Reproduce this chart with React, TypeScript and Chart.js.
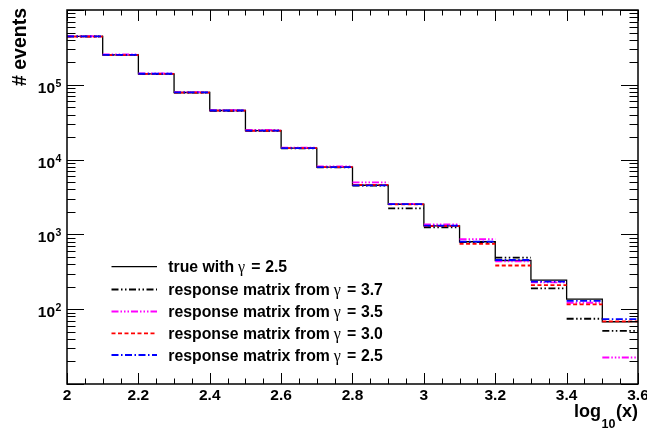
import React, { useEffect, useRef } from "react";
import { Chart, registerables } from "chart.js";

Chart.register(...registerables);

// ---- data ----
const binEdges = [2.0, 2.1, 2.2, 2.3, 2.4, 2.5, 2.6, 2.7, 2.8, 2.9, 3.0, 3.1, 3.2, 3.3, 3.4, 3.5, 3.6];
const trueCounts = [443000, 252000, 140000, 78900, 45300, 24400, 14200, 7910, 4540, 2530, 1300, 798, 448, 245, 136, 68];
const gamma37 = [442000, 251000, 139000, 78500, 45000, 24300, 14100, 7850, 4480, 2230, 1245, 790, 488, 190, 74.5, 51.4];
const gamma35 = [446000, 255000, 142000, 80000, 46000, 24900, 14500, 8100, 4950, 2560, 1360, 861, 437, 229, 122, 22.6];
const gamma30 = [441000, 250000, 140000, 78800, 45200, 24300, 14200, 7950, 4600, 2520, 1290, 748, 384, 210, 116, 68.6];
const gamma25 = [443000, 252000, 140500, 79000, 45300, 24400, 14200, 7920, 4520, 2540, 1310, 800, 455, 233, 129, 73.8];

const xTickValues = [2, 2.2, 2.4, 2.6, 2.8, 3, 3.2, 3.4, 3.6];
const xTickLabels = ["2", "2.2", "2.4", "2.6", "2.8", "3", "3.2", "3.4", "3.6"];
const yDecadeValues = [100, 1000, 10000, 100000];
const yDecadeExponents = ["2", "3", "4", "5"];
const legendPrefixes = ["true with", "response matrix from", "response matrix from", "response matrix from", "response matrix from"];
const legendValues = ["2.5", "3.7", "3.5", "3.0", "2.5"];

const Y_MIN = 10;
const Y_MAX = 1e6;

const BOLD = "'Liberation Sans', Arial, Helvetica, sans-serif";

const styles = [
  { color: "#000000", dash: [] as number[], width: 1.3 },
  { color: "#000000", dash: [7, 2.5, 1.5, 2.5, 1.5, 2.5], width: 1.8 },
  { color: "#ff00ff", dash: [7, 2, 1.5, 2, 1.5, 2, 1.5, 2], width: 1.8 },
  { color: "#ff0000", dash: [4, 2.5], width: 1.8 },
  { color: "#0000ff", dash: [7, 2.5, 1.5, 2.5], width: 1.8 },
];

function stepData(vals: number[]) {
  const pts = vals.map((v, i) => ({ x: binEdges[i], y: v }));
  pts.push({ x: binEdges[vals.length], y: vals[vals.length - 1] });
  return pts;
}

function segData(vals: number[]) {
  const pts: { x: number; y: number | null }[] = [];
  vals.forEach((v, i) => {
    pts.push({ x: binEdges[i], y: v });
    pts.push({ x: binEdges[i + 1], y: v });
    pts.push({ x: binEdges[i + 1], y: null });
  });
  return pts;
}

const rootPlugin = {
  id: "rootFrame",
  afterDatasetsDraw(chart: any) {
    const ctx: CanvasRenderingContext2D = chart.ctx;
    const xs = chart.scales.x;
    const ys = chart.scales.y;
    const { left, right, top, bottom } = chart.chartArea;
    ctx.save();
    ctx.strokeStyle = "#000";
    ctx.fillStyle = "#000";

    // frame
    ctx.lineWidth = 1.5;
    ctx.setLineDash([]);
    ctx.strokeRect(left, top, right - left, bottom - top);

    // x ticks (minor every 0.05, major at labelled values)
    ctx.lineWidth = 1;
    for (let k = 0; k <= 32; k++) {
      const v = 2 + k * 0.05;
      const px = Math.round(xs.getPixelForValue(v)) + 0.5;
      const major = k % 4 === 0;
      const len = major ? 11 : 5.5;
      ctx.beginPath();
      ctx.moveTo(px, bottom);
      ctx.lineTo(px, bottom - len);
      ctx.moveTo(px, top);
      ctx.lineTo(px, top + len);
      ctx.stroke();
    }

    // y ticks
    for (let d = 10; d < Y_MAX * 10; d *= 10) {
      for (let m = 1; m <= 9; m++) {
        const v = m * d;
        if (v < Y_MIN || v > Y_MAX) continue;
        const py = Math.round(ys.getPixelForValue(v)) + 0.5;
        const len = m === 1 ? 17 : 8.5;
        ctx.beginPath();
        ctx.moveTo(left, py);
        ctx.lineTo(left + len, py);
        ctx.moveTo(right, py);
        ctx.lineTo(right - len, py);
        ctx.stroke();
      }
    }

    // x labels
    ctx.font = `bold 15.5px ${BOLD}`;
    ctx.textAlign = "center";
    ctx.textBaseline = "alphabetic";
    xTickValues.forEach((v, i) => {
      ctx.fillText(xTickLabels[i], xs.getPixelForValue(v), bottom + 16);
    });

    // y labels
    yDecadeValues.forEach((v, i) => {
      const py = ys.getPixelForValue(v);
      ctx.font = `bold 15.5px ${BOLD}`;
      ctx.textAlign = "right";
      ctx.fillText("10", 55, py + 8);
      ctx.font = `bold 10.5px ${BOLD}`;
      ctx.textAlign = "left";
      ctx.fillText(yDecadeExponents[i], 55.5, py + 2);
    });

    // y title
    ctx.save();
    ctx.translate(26, 8);
    ctx.rotate(-Math.PI / 2);
    ctx.font = `bold 19.5px ${BOLD}`;
    ctx.textAlign = "right";
    ctx.fillText("# events", 0, 0);
    ctx.restore();

    // x title: log_10(x)
    ctx.textAlign = "left";
    ctx.font = `bold 18px ${BOLD}`;
    const w3 = ctx.measureText("(x)").width;
    const w1 = ctx.measureText("log").width;
    ctx.font = `bold 12.5px ${BOLD}`;
    const w2 = ctx.measureText("10").width;
    const xEnd = 638;
    ctx.font = `bold 18px ${BOLD}`;
    ctx.fillText("log", xEnd - w3 - w2 - w1 - 1, 416.5);
    ctx.fillText("(x)", xEnd - w3, 416.5);
    ctx.font = `bold 12.5px ${BOLD}`;
    ctx.fillText("10", xEnd - w3 - w2 - 0.5, 428);

    // legend
    const rowY = [266.7, 289.5, 311.5, 333.3, 355];
    rowY.forEach((y, i) => {
      const st = styles[i];
      ctx.strokeStyle = st.color;
      ctx.lineWidth = st.width;
      ctx.setLineDash(st.dash);
      ctx.beginPath();
      ctx.moveTo(111.5, y);
      ctx.lineTo(157, y);
      ctx.stroke();
      ctx.setLineDash([]);
      ctx.fillStyle = "#000";
      ctx.textAlign = "left";
      ctx.font = `bold 15.8px ${BOLD}`;
      let tx = 168.3;
      const by = y + 5.5;
      ctx.fillText(legendPrefixes[i], tx, by);
      tx += ctx.measureText(legendPrefixes[i]).width + 4;
      ctx.font = `16px 'Liberation Serif', 'DejaVu Serif', serif`;
      ctx.fillText("\u03b3", tx, by);
      tx += ctx.measureText("\u03b3").width + 6;
      ctx.font = `bold 15.8px ${BOLD}`;
      ctx.fillText("=", tx, by);
      tx += 14;
      ctx.fillText(legendValues[i], tx, by);
    });

    ctx.restore();
  },
};

export default function App() {
  const canvasRef = useRef<HTMLCanvasElement | null>(null);

  useEffect(() => {
    document.body.style.margin = "0";
    const canvas = canvasRef.current;
    if (!canvas) return;
    const series = [gamma37, gamma35, gamma30, gamma25];
    const datasets: any[] = series.map((vals, i) => ({
      label: legendValues[i + 1],
      data: segData(vals),
      borderColor: styles[i + 1].color,
      borderWidth: styles[i + 1].width,
      borderDash: styles[i + 1].dash,
      pointRadius: 0,
      fill: false,
      spanGaps: false,
      tension: 0,
      order: 4 - i,
    }));
    datasets.push({
      label: "true",
      data: stepData(trueCounts),
      borderColor: styles[0].color,
      borderWidth: styles[0].width,
      pointRadius: 0,
      fill: false,
      stepped: true,
      tension: 0,
      order: 5,
    });

    const chart = new Chart(canvas, {
      type: "line",
      data: { datasets },
      options: {
        animation: false,
        responsive: false,
        maintainAspectRatio: false,
        devicePixelRatio: 1,
        layout: { padding: { left: 67, right: 9, top: 10, bottom: 47 } },
        plugins: {
          legend: { display: false },
          tooltip: { enabled: false },
        },
        scales: {
          x: { type: "linear", min: 2, max: 3.6, display: false },
          y: { type: "logarithmic", min: Y_MIN, max: Y_MAX, display: false },
        },
      },
      plugins: [rootPlugin],
    });
    return () => chart.destroy();
  }, []);

  return (
    <div style={{ position: "absolute", left: 0, top: 0, width: 647, height: 431, background: "#fff" }}>
      <canvas ref={canvasRef} width={647} height={431} style={{ width: 647, height: 431, display: "block" }} />
    </div>
  );
}
